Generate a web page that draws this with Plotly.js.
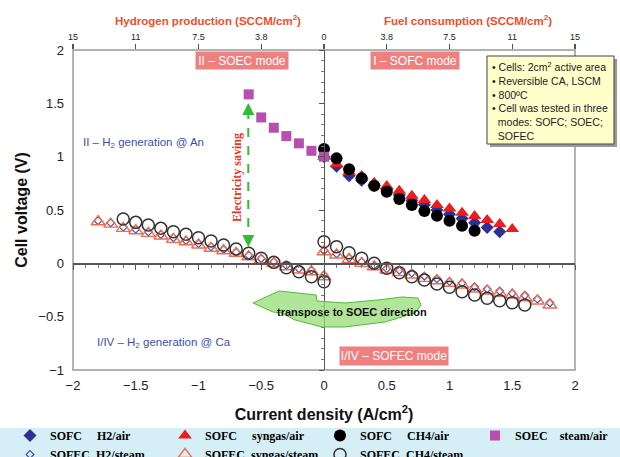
<!DOCTYPE html>
<html><head><meta charset="utf-8">
<script src="https://cdn.plot.ly/plotly-3.0.1.min.js"></script>
<style>body{margin:0;background:#fff}#chart{width:620px;height:457px}</style>
</head><body><div id="chart"></div>
<script>
// ---- data ----
const sofcH2AirX = [0, 0.1, 0.2, 0.3, 0.4, 0.5, 0.6, 0.7, 0.8, 0.9, 1.0, 1.1, 1.2, 1.3, 1.4];
const sofcH2AirY = [1.0, 0.91, 0.82, 0.78, 0.73, 0.69, 0.64, 0.59, 0.55, 0.50, 0.46, 0.42, 0.38, 0.335, 0.295];

const sofcSynAirX = [0, 0.1, 0.2, 0.3, 0.4, 0.5, 0.6, 0.7, 0.8, 0.9, 1.0, 1.1, 1.2, 1.3, 1.4, 1.5];
const sofcSynAirY = [1.0, 0.928, 0.858, 0.818, 0.755, 0.724, 0.680, 0.634, 0.593, 0.546, 0.515, 0.474, 0.443, 0.406, 0.368, 0.321];

const sofcCH4AirX = [0, 0.1, 0.2, 0.3, 0.4, 0.5, 0.6, 0.7, 0.8, 0.9, 1.0, 1.1, 1.2];
const sofcCH4AirY = [1.071, 0.984, 0.881, 0.797, 0.727, 0.671, 0.603, 0.546, 0.490, 0.446, 0.399, 0.352, 0.306];

const soecSteamAirX = [-0.6, -0.5, -0.4, -0.3, -0.2, -0.1, 0];
const soecSteamAirY = [1.584, 1.368, 1.271, 1.193, 1.125, 1.055, 0.999];

const sofecH2SteamX = [-1.8, -1.7, -1.6, -1.5, -1.4, -1.3, -1.2, -1.1, -1.0, -0.9, -0.8, -0.7, -0.6, -0.5, -0.4, -0.3, -0.2, -0.1, 0, 0,
  0.1, 0.2, 0.3, 0.4, 0.5, 0.6, 0.7, 0.8, 0.9, 1.0, 1.1, 1.2, 1.3, 1.4, 1.5, 1.6, 1.7, 1.8];
const sofecH2SteamY = [0.40, 0.38, 0.34, 0.32, 0.295, 0.27, 0.24, 0.215, 0.185, 0.155, 0.13, 0.105, 0.075, 0.045, 0.015, -0.02, -0.05, -0.065, 0.12, -0.11,
  0.09, 0.05, 0.015, -0.02, -0.05, -0.065, -0.09, -0.12, -0.145, -0.17, -0.185, -0.22, -0.24, -0.26, -0.28, -0.30, -0.335, -0.37];

const sofecSynSteamX = [-1.8, -1.7, -1.6, -1.5, -1.4, -1.3, -1.2, -1.1, -1.0, -0.9, -0.8, -0.7, -0.6, -0.5, -0.4, -0.3, -0.2, -0.1, 0, 0,
  0.1, 0.2, 0.3, 0.4, 0.5, 0.6, 0.7, 0.8, 0.9, 1.0, 1.1, 1.2, 1.3, 1.4, 1.5, 1.6, 1.7, 1.8];
const sofecSynSteamY = [0.390, 0.368, 0.328, 0.306, 0.281, 0.256, 0.225, 0.202, 0.172, 0.141, 0.118, 0.094, 0.062, 0.031, 0.000, -0.032, -0.063, -0.079, 0.109, -0.126,
  0.078, 0.037, 0.000, -0.032, -0.063, -0.086, -0.110, -0.141, -0.163, -0.187, -0.203, -0.241, -0.260, -0.281, -0.297, -0.322, -0.353, -0.391];

const sofecCH4SteamX = [-1.6, -1.5, -1.4, -1.3, -1.2, -1.1, -1.0, -0.9, -0.8, -0.7, -0.6, -0.5, -0.4, -0.3, -0.2, -0.1, 0, 0,
  0.1, 0.2, 0.3, 0.4, 0.5, 0.6, 0.7, 0.8, 0.9, 1.0, 1.1, 1.2, 1.3, 1.4, 1.5, 1.6];
const sofecCH4SteamY = [0.415, 0.384, 0.359, 0.328, 0.296, 0.272, 0.240, 0.209, 0.172, 0.134, 0.094, 0.047, 0.009, -0.041, -0.079, -0.126, -0.172, 0.202,
  0.156, 0.099, 0.047, 0.000, -0.047, -0.088, -0.126, -0.157, -0.194, -0.225, -0.266, -0.297, -0.328, -0.351, -0.369, -0.391];

const bottomTickVals = [-2, -1.5, -1, -0.5, 0, 0.5, 1, 1.5, 2];
const topTickText = ['15', '11', '7.5', '3.8', '0', '3.8', '7.5', '11', '15'];

const seriesNames = [
  'SOFC\u00a0\u00a0\u00a0\u00a0\u00a0H2/air',
  'SOFC\u00a0\u00a0\u00a0\u00a0\u00a0syngas/air',
  'SOFC\u00a0\u00a0\u00a0\u00a0\u00a0CH4/air',
  'SOEC\u00a0\u00a0\u00a0\u00a0steam/air',
  'SOFEC\u00a0\u00a0H2/steam',
  'SOFEC\u00a0\u00a0syngas/steam',
  'SOFEC\u00a0\u00a0CH4/steam'
];

// ---- helpers: pixel position on the 620x457 canvas -> paper coords ----
const L = 73, R = 575, T = 50, B = 370;
const W = 620, H = 457;
const px = p => p / W;
const py = p => (B - p) / (B - T);

function mk(x, y, name, symbol, color, size, lineColor, lineWidth) {
  return {
    type: 'scatter', mode: 'markers', x: x, y: y, name: name,
    marker: { symbol: symbol, color: color, size: size, line: { color: lineColor || color, width: lineWidth || 0 } },
    hoverinfo: 'x+y+name'
  };
}
// empty helper traces so the extra axes get their own subplots
function axisHolder(xa, ya) {
  return { type: 'scatter', mode: 'markers', x: [], y: [], xaxis: xa, yaxis: ya, showlegend: false, hoverinfo: 'skip' };
}

const traces = [
  mk(sofcH2AirX, sofcH2AirY, seriesNames[0], 'diamond', '#2e3192', 10),
  mk(sofcSynAirX, sofcSynAirY, seriesNames[1], 'triangle-up', '#ee1c1c', 12),
  mk(sofcCH4AirX, sofcCH4AirY, seriesNames[2], 'circle', '#000000', 12),
  mk(soecSteamAirX, soecSteamAirY, seriesNames[3], 'square', '#b64fae', 10),
  mk(sofecH2SteamX, sofecH2SteamY, seriesNames[4], 'diamond-open', '#4455aa', 6, '#4455aa', 1.2),
  mk(sofecSynSteamX, sofecSynSteamY, seriesNames[5], 'triangle-up-open', '#f26b4f', 12, '#f26b4f', 1.4),
  mk(sofecCH4SteamX, sofecCH4SteamY, seriesNames[6], 'circle-open', '#333333', 12, '#333333', 1.5),
  axisHolder('x2', 'y'),
  axisHolder('x3', 'y'),
  axisHolder('x', 'y2')
];

const sans = 'Liberation Sans, Arial, sans-serif';
const serif = 'Liberation Serif, Times New Roman, serif';

// curved arrow outline (pixel positions of the drawing)
const arrowPts = [[253,303],[279,291],[316,295],[317,301],[345,303],[378,300],[402,297],[418,298],[421,305],
  [415,313],[385,322],[345,327],[322,327],[295,320],[282,313],[273,312]];
const arrowPath = 'M' + arrowPts.map(p => px(p[0]).toFixed(4) + ',' + py(p[1]).toFixed(4)).join(' L') + ' Z';

function note(xp, yp, text, font, extra) {
  return Object.assign({ xref: 'paper', yref: 'paper', x: px(xp), y: py(yp), text: text, showarrow: false,
    xanchor: 'center', yanchor: 'middle', font: font }, extra || {});
}

const layout = {
  width: W, height: H,
  margin: { l: 0, r: 0, t: T, b: H - B, autoexpand: false },
  paper_bgcolor: '#ffffff', plot_bgcolor: '#ffffff',
  font: { family: sans, color: '#222' },
  showlegend: true,
  legend: {
    orientation: 'h', x: px(10), y: py(421), xanchor: 'left', yanchor: 'top',
    bgcolor: 'rgba(0,0,0,0)', entrywidth: 110, entrywidthmode: 'pixels',
    font: { family: serif, size: 12, color: '#000', weight: 'bold' },
    traceorder: 'normal'
  },
  xaxis: {
    domain: [L / W, R / W], range: [-2, 2], tickvals: bottomTickVals,
    showline: false, ticks: '', showgrid: false, zeroline: false, ticklabelstandoff: 6,
    tickfont: { family: sans, size: 13, color: '#222' },
    title: { text: '<b>Current density (A/cm<sup>2</sup>)</b>', font: { family: sans, size: 16, color: '#111' }, standoff: 16 }
  },
  yaxis: {
    range: [-1, 2], dtick: 0.5, tick0: 0,
    showline: false, ticks: '', showgrid: false, zeroline: false, ticklabelstandoff: 8,
    tickfont: { family: sans, size: 13, color: '#222' },
    title: { text: '<b>Cell voltage (V)</b>', font: { family: sans, size: 16, color: '#111' }, standoff: 6 }
  },
  xaxis2: {
    overlaying: 'x', side: 'top', anchor: 'y', range: [-2, 2],
    tickvals: bottomTickVals, ticktext: topTickText,
    ticks: 'outside', ticklen: 5, tickwidth: 1.2, tickcolor: '#555',
    showline: false, showgrid: false, zeroline: false,
    tickfont: { family: sans, size: 9, color: '#222' }
  },
  xaxis3: {
    overlaying: 'x', anchor: 'free', position: 1 / 3, range: [-2, 2],
    showline: true, linecolor: '#555', linewidth: 1.2,
    ticks: 'outside', ticklen: 5, tickcolor: '#555', dtick: 0.5, tick0: 0,
    minor: { ticks: 'outside', ticklen: 3, dtick: 0.1, tickcolor: '#777' },
    showticklabels: false, showgrid: false, zeroline: false
  },
  yaxis2: {
    overlaying: 'y', anchor: 'free', position: 324 / W, range: [-1, 2],
    showline: true, linecolor: '#555', linewidth: 1.2,
    ticks: 'outside', ticklen: 5, tickcolor: '#555', dtick: 0.5, tick0: 0,
    minor: { ticks: 'outside', ticklen: 3, dtick: 0.1, tickcolor: '#777' },
    showticklabels: false, showgrid: false, zeroline: false
  },
  shapes: [
    { type: 'rect', xref: 'paper', yref: 'paper', x0: 0, x1: 1, y0: py(428), y1: py(470),
      fillcolor: '#d6eef5', line: { width: 0 }, layer: 'below' },
    { type: 'rect', xref: 'x domain', yref: 'y domain', x0: 0, x1: 1, y0: 0, y1: 1,
      fillcolor: 'rgba(0,0,0,0)', line: { color: '#999', width: 1.5 }, layer: 'below' },
    { type: 'rect', xref: 'paper', yref: 'paper', x0: px(490), x1: px(617), y0: py(59), y1: py(147),
      fillcolor: '#9a9a9a', line: { width: 0 }, layer: 'above' },
    { type: 'rect', xref: 'paper', yref: 'paper', x0: px(487), x1: px(614), y0: py(56), y1: py(144),
      fillcolor: '#ffffcc', line: { color: '#444', width: 1 }, layer: 'above' },
    { type: 'line', xref: 'paper', yref: 'paper', x0: px(248.3), x1: px(248.3), y0: py(110), y1: py(240),
      line: { color: '#33bb33', width: 2, dash: 'dash' } },
    { type: 'path', xref: 'paper', yref: 'paper', path: arrowPath,
      fillcolor: 'rgba(150,220,120,0.75)', line: { color: '#55bb33', width: 1 }, layer: 'above' }
  ],
  annotations: [
    note(208, 20, 'Hydrogen production (SCCM/cm<sup>2</sup>)', { family: sans, size: 11.5, color: '#f04e2a', weight: 'bold' }),
    note(468, 20, 'Fuel consumption (SCCM/cm<sup>2</sup>)', { family: sans, size: 11.5, color: '#f04e2a', weight: 'bold' }),
    note(242, 60, 'II \u2013 SOEC mode', { family: sans, size: 12, color: '#fff' }, { bgcolor: '#f08080', width: 90, height: 15 }),
    note(415, 60, 'I \u2013 SOFC mode', { family: sans, size: 12, color: '#fff' }, { bgcolor: '#f08080', width: 86, height: 15 }),
    note(394, 356, 'I/IV \u2013 SOFEC mode', { family: sans, size: 12, color: '#fff' }, { bgcolor: '#f08080', width: 106, height: 16 }),
    note(81, 143, 'II \u2013 H<sub>2</sub> generation @ An', { family: sans, size: 11.5, color: '#3d4fa8' }, { xanchor: 'left' }),
    note(95, 343, 'I/IV \u2013 H<sub>2</sub> generation @ Ca', { family: sans, size: 11.5, color: '#3d4fa8' }, { xanchor: 'left' }),
    note(237, 178, 'Electricity saving', { family: serif, size: 12, color: '#e8321e', weight: 'bold' }, { textangle: -90 }),
    note(352, 312, 'transpose to SOEC direction', { family: sans, size: 11, color: '#111', weight: 'bold' }),
    note(490, 58, '\u2022 Cells: 2cm<sup>2</sup> active area<br>\u2022 Reversible CA, LSCM<br>\u2022 800\u00baC<br>\u2022 Cell was tested in three<br>\u00a0\u00a0modes: SOFC; SOEC;<br>\u00a0\u00a0SOFEC',
      { family: sans, size: 10.5, color: '#222' }, { xanchor: 'left', yanchor: 'top', align: 'left' }),
    { xref: 'paper', yref: 'paper', x: px(248.3), y: py(103), ax: 0, ay: 10, axref: 'pixel', ayref: 'pixel',
      text: '', showarrow: true, arrowhead: 2, arrowsize: 1.2, arrowwidth: 2, arrowcolor: '#33bb33' },
    { xref: 'paper', yref: 'paper', x: px(248.3), y: py(247), ax: 0, ay: -10, axref: 'pixel', ayref: 'pixel',
      text: '', showarrow: true, arrowhead: 2, arrowsize: 1.2, arrowwidth: 2, arrowcolor: '#33bb33' }
  ]
};

Plotly.newPlot('chart', traces, layout, { displayModeBar: false, staticPlot: true });
</script>
</body></html>
